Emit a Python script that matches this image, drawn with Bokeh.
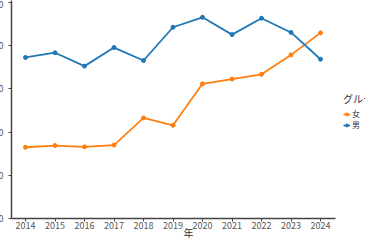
from bokeh.plotting import figure
from bokeh.models import Legend, LegendItem, FixedTicker
from bokeh.embed import file_html
from bokeh.resources import INLINE

years = [2014, 2015, 2016, 2017, 2018, 2019, 2020, 2021, 2022, 2023, 2024]
female = [165, 169, 166, 170, 233, 216, 312, 323, 334, 379, 430]
male = [373, 384, 353, 396, 366, 443, 466, 426, 464, 431, 369]
y_ticks = [0, 100, 200, 300, 400, 500]
x_label = "年"
legend_title = "グループ"
names = ["女", "男"]
colors = ["#ff7f0e", "#1f77b4"]

FONT = "Noto Sans CJK JP"

p = figure(frame_width=354, frame_height=218, output_backend="svg", toolbar_location=None,
           x_range=(2013.525, 2025.525), y_range=(0, 505),
           min_border_left=40, min_border_right=0, min_border_top=0, min_border_bottom=0)
p.styles = {"transform": "translateX(-29px)"}
p.outline_line_color = None
p.xgrid.visible = False
p.ygrid.visible = False

r_f = p.line(years, female, line_color=colors[0], line_width=1.8)
s_f = p.scatter(years, female, color=colors[0], size=4)
r_m = p.line(years, male, line_color=colors[1], line_width=1.8)
s_m = p.scatter(years, male, color=colors[1], size=4)

for ax in (p.xaxis[0], p.yaxis[0]):
    ax.axis_line_color = "#444444"
    ax.axis_line_width = 1.5
    ax.major_tick_line_color = "#444444"
    ax.major_tick_out = 3
    ax.major_tick_in = 0
    ax.minor_tick_line_color = None
    ax.major_label_text_color = "#555555"
    ax.major_label_text_font = FONT
    ax.major_label_text_font_size = "9px"

p.xaxis.bounds = (2013.525, 2024.51)
p.xaxis.ticker = FixedTicker(ticks=years)
p.yaxis.ticker = FixedTicker(ticks=y_ticks)
p.xaxis.major_label_standoff = 0
p.xaxis.axis_label = x_label
p.xaxis.axis_label_text_font = FONT
p.xaxis.axis_label_text_font_size = "10px"
p.xaxis.axis_label_text_font_style = "normal"
p.xaxis.axis_label_text_color = "#333333"
p.xaxis.axis_label_standoff = -7

legend = Legend(items=[LegendItem(label=names[0], renderers=[r_f, s_f]),
                       LegendItem(label=names[1], renderers=[r_m, s_m])],
                title=legend_title, location=(332, 88))
legend.title_text_font = FONT
legend.title_text_font_size = "10px"
legend.title_text_font_style = "normal"
legend.title_text_color = "#333333"
legend.title_standoff = 2
legend.label_text_font = FONT
legend.label_text_font_size = "8px"
legend.label_text_color = "#333333"
legend.glyph_width = 7
legend.glyph_height = 8
legend.label_height = 8
legend.spacing = 0
legend.padding = 0
legend.margin = 0
legend.border_line_color = None
legend.background_fill_alpha = 0
legend.label_standoff = 2
p.add_layout(legend, "center")

open("out.html", "w").write(file_html(p, INLINE))
